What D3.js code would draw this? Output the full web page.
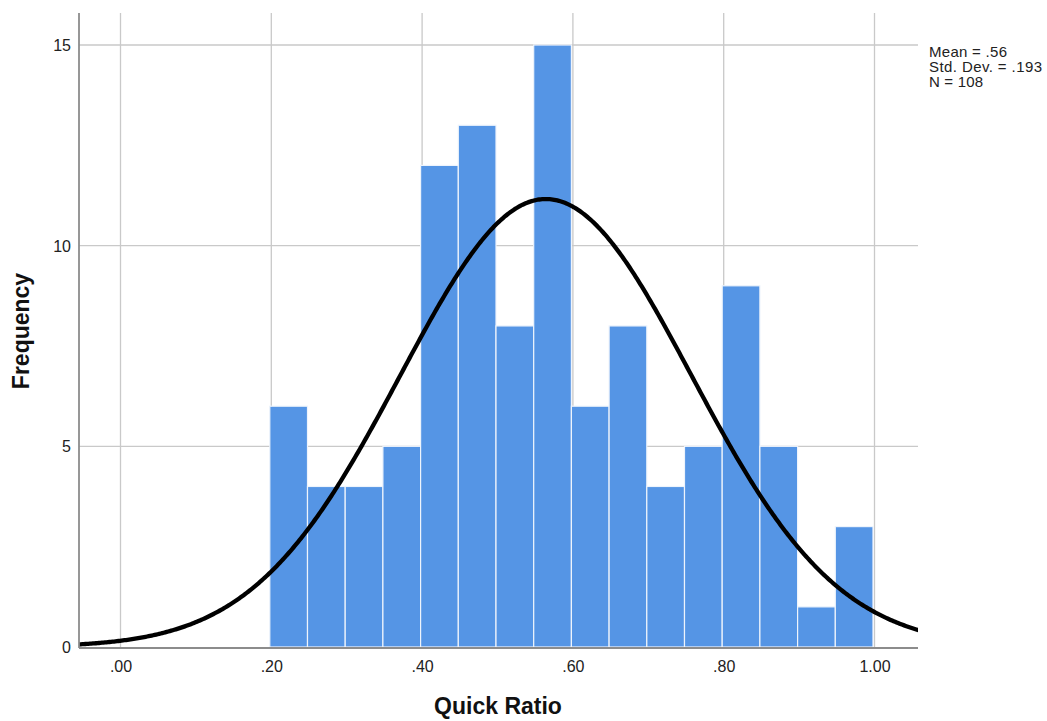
<!DOCTYPE html>
<html>
<head>
<meta charset="utf-8">
<script src="https://cdn.jsdelivr.net/npm/d3@7"></script>
<style>
  body { margin: 0; background: #fff; }
  text { font-family: "Liberation Sans", Arial, sans-serif; }
</style>
</head>
<body>
<div id="chart"></div>
<script>
// histogram bins (lower edges) and counts
const binStarts = [0.20, 0.25, 0.30, 0.35, 0.40, 0.45, 0.50, 0.55, 0.60, 0.65, 0.70, 0.75, 0.80, 0.85, 0.90, 0.95];
const counts = [6, 4, 4, 5, 12, 13, 8, 15, 6, 8, 4, 5, 9, 5, 1, 3];
const binWidth = 0.05;
const xTicks = [0, 0.2, 0.4, 0.6, 0.8, 1.0];
const yTicks = [0, 5, 10, 15];
const stats = { mean: 0.5648, sd: 0.193, n: 108 };
const statLines = ["Mean = .56", "Std. Dev. = .193", "N = 108"];

const W = 1047, H = 721;
const plot = { left: 79, right: 918, top: 13, bottom: 647 };

const svg = d3.select("#chart").append("svg")
    .attr("width", W)
    .attr("height", H);

const x = d3.scaleLinear().domain([0, 1]).range([120, 874]);
const y = d3.scaleLinear().domain([0, 15]).range([plot.bottom, 45]);

svg.append("defs").append("clipPath").attr("id", "plot-clip")
    .append("rect")
    .attr("x", plot.left).attr("y", plot.top)
    .attr("width", plot.right - plot.left).attr("height", plot.bottom - plot.top);

// grid
const grid = svg.append("g").attr("stroke", "#c9c9c9").attr("stroke-width", 1.3);
grid.selectAll(".vg").data(xTicks).enter().append("line")
    .attr("x1", d => x(d) + 0.5).attr("x2", d => x(d) + 0.5)
    .attr("y1", plot.top).attr("y2", plot.bottom);
grid.selectAll(".hg").data(yTicks.filter(d => d > 0)).enter().append("line")
    .attr("x1", plot.left).attr("x2", plot.right)
    .attr("y1", d => y(d)).attr("y2", d => y(d));

// bars
svg.append("g").selectAll("rect")
    .data(binStarts.map((s, i) => ({ s, c: counts[i] })))
    .enter().append("rect")
    .attr("x", d => x(d.s) - 1)
    .attr("width", d => x(d.s + binWidth) - x(d.s))
    .attr("y", d => y(d.c))
    .attr("height", d => y(0) - y(d.c))
    .attr("fill", "#5595e5")
    .attr("stroke", "#eef4fc")
    .attr("stroke-width", 1.2);

// normal curve
const xs = d3.range(-0.06, 1.07, 0.002);
const scale = stats.n * binWidth / (stats.sd * Math.sqrt(2 * Math.PI));
const curve = xs.map(v => [v, scale * Math.exp(-0.5 * Math.pow((v - stats.mean) / stats.sd, 2))]);
svg.append("path")
    .datum(curve)
    .attr("clip-path", "url(#plot-clip)")
    .attr("fill", "none")
    .attr("stroke", "#000")
    .attr("stroke-width", 4.3)
    .attr("d", d3.line().x(d => x(d[0])).y(d => y(d[1])));

// axes
const axis = svg.append("g").attr("stroke", "#8c8c8c").attr("stroke-width", 1.8);
axis.append("line").attr("x1", plot.left).attr("x2", plot.left).attr("y1", plot.top).attr("y2", plot.bottom + 1);
axis.append("line").attr("x1", plot.left).attr("x2", plot.right).attr("y1", plot.bottom + 1).attr("y2", plot.bottom + 1);

const fmtX = d => d3.format(".2f")(d).replace(/^0/, "");
svg.append("g").selectAll("text").data(xTicks).enter().append("text")
    .attr("x", d => x(d) + 1)
    .attr("y", 672)
    .attr("text-anchor", "middle")
    .attr("font-size", 16)
    .attr("fill", "#222")
    .text(fmtX);

svg.append("g").selectAll("text").data(yTicks).enter().append("text")
    .attr("x", 71)
    .attr("y", d => y(d) + 6)
    .attr("text-anchor", "end")
    .attr("font-size", 16)
    .attr("fill", "#222")
    .text(d => d);

// titles
svg.append("text")
    .attr("transform", "translate(29,331) rotate(-90)")
    .attr("text-anchor", "middle")
    .attr("font-size", 23)
    .attr("font-weight", "bold")
    .attr("fill", "#111")
    .text("Frequency");

svg.append("text")
    .attr("x", 498)
    .attr("y", 714)
    .attr("text-anchor", "middle")
    .attr("font-size", 23)
    .attr("font-weight", "bold")
    .attr("fill", "#111")
    .text("Quick Ratio");

svg.append("g").selectAll("text").data(statLines).enter().append("text")
    .attr("x", 929)
    .attr("y", (d, i) => 57 + i * 15)
    .attr("font-size", 15)
    .attr("fill", "#222")
    .attr("textLength", (d, i) => [78, 113, 54][i])
    .text(d => d);
</script>
</body>
</html>
